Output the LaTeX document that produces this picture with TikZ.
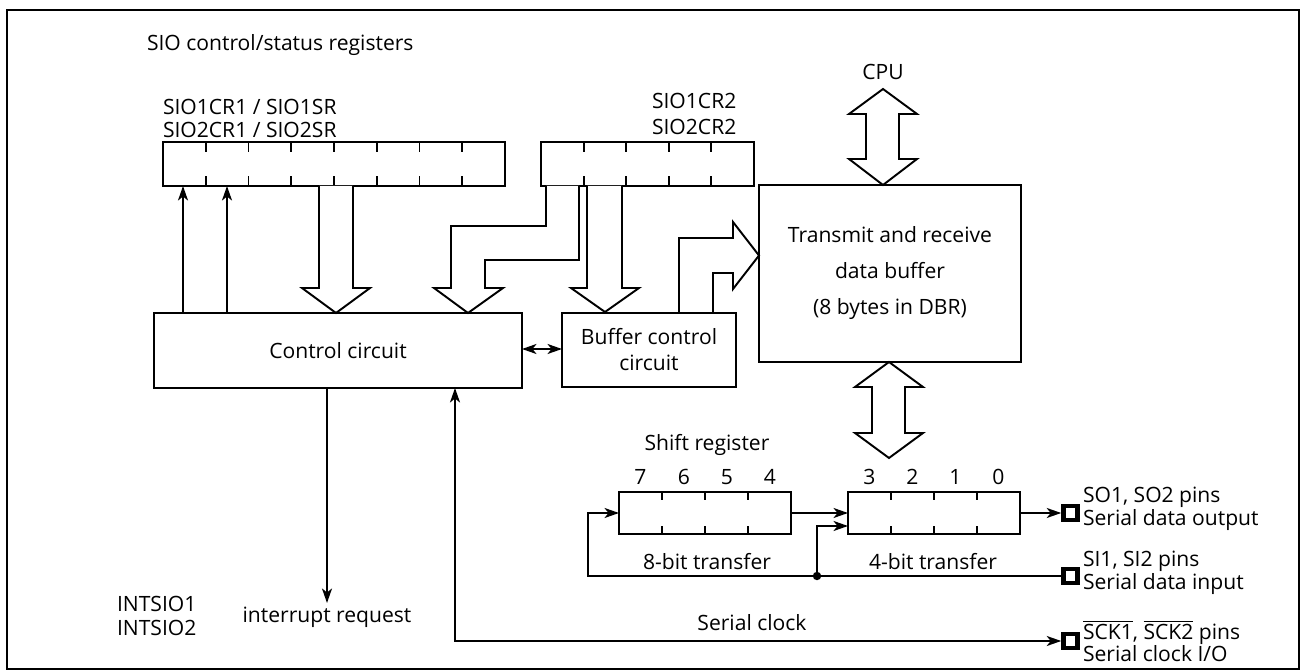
\documentclass[tikz,border=0pt]{standalone}
\usepackage{fontspec}
\setmainfont{Open Sans}
\usetikzlibrary{arrows.meta,calc}
\begin{document}
\begin{tikzpicture}[x=0.02cm,y=-0.02cm, line width=1.1pt,
  every node/.style={font=\fontsize{12}{14}\selectfont},
  box/.style={draw, line width=1.1pt, outer sep=0pt, inner sep=0pt, align=center},
  lbl/.style={inner sep=0pt, outer sep=0pt},
  pinbox/.style={draw, line width=2.6pt, minimum size=0.28cm, inner sep=0pt},
  tip/.style={-{Stealth[length=0.29cm,width=0.2cm,inset=0.08cm]}},
  tips/.style={{Stealth[length=0.29cm,width=0.2cm,inset=0.08cm]}-{Stealth[length=0.29cm,width=0.2cm,inset=0.08cm]}},
  hollow/.style={draw, line width=1.1pt, line join=miter, fill=white}]
\useasboundingbox (0,0) rectangle (1301,671);
\draw[line width=1.3pt] (7,10) rectangle (1299,669);

% boxes
\node[box, minimum width=7.36cm, minimum height=1.5cm] (ctrl) at (338,350.5) {Control circuit};
\node[box, minimum width=3.48cm, minimum height=1.48cm, font=\fontsize{12}{14.8}\selectfont] (buf) at (649,350) {Buffer control\\circuit};
\node[box, minimum width=5.24cm, minimum height=3.54cm, font=\fontsize{12}{20.5}\selectfont] (dbr) at (890,273.5) {Transmit and receive\\data buffer\\(8 bytes in DBR)};

% registers
\node[box, minimum width=6.84cm, minimum height=0.88cm] (r1) at (334,164) {};
\node[box, minimum width=4.26cm, minimum height=0.88cm] (r2) at (647.5,164) {};
\node[box, minimum width=3.44cm, minimum height=0.84cm] (sl) at (705,513) {};
\node[box, minimum width=3.44cm, minimum height=0.84cm] (sr) at (934,513) {};
\foreach \i in {1,...,7} {
  \draw ($(r1.north west)!\i/8!(r1.north east)$) -- ++(0,10);
  \draw ($(r1.south west)!\i/8!(r1.south east)$) -- ++(0,-10);
}
\foreach \i in {1,...,4} {
  \draw ($(r2.north west)!\i/5!(r2.north east)$) -- ++(0,10);
  \draw ($(r2.south west)!\i/5!(r2.south east)$) -- ++(0,-10);
}
\foreach \r in {sl,sr} {
  \foreach \i in {1,2,3} {
    \draw ($(\r.north west)!\i/4!(\r.north east)$) -- ++(0,8);
    \draw ($(\r.south west)!\i/4!(\r.south east)$) -- ++(0,-8);
  }
}

% pins
\node[pinbox] (so) at (1070.5,513) {};
\node[pinbox] (si) at (1070.5,576) {};
\node[pinbox] (sck) at (1070.5,641) {};

% labels
\node[lbl, anchor=west] (t0) at (147,45) {SIO control/status registers};
\node[lbl, anchor=west, align=left, font=\fontsize{12}{13.1}\selectfont] (t1) at (163,118.5) {SIO1CR1 / SIO1SR\\SIO2CR1 / SIO2SR};
\node[lbl, anchor=west, align=left, font=\fontsize{12}{14.8}\selectfont] (t2) at (652,114) {SIO1CR2\\SIO2CR2};
\node[lbl] (cpu) at (883,72) {CPU};
\node[lbl] (shl) at (707,445) {Shift register};
\node[lbl] (d7) at (640.5,477) {7};
\node[lbl] (d6) at (684,477) {6};
\node[lbl] (d5) at (727,477) {5};
\node[lbl] (d4) at (770,477) {4};
\node[lbl] (d3) at (869.5,477) {3};
\node[lbl] (d2) at (912.5,477) {2};
\node[lbl] (d1) at (955.5,477) {1};
\node[lbl] (d0) at (998.5,477) {0};
\node[lbl] (b8) at (707,562) {8-bit transfer};
\node[lbl] (b4) at (933,562) {4-bit transfer};
\node[lbl] (sclk) at (752,623) {Serial clock};
\node[lbl] (irqt) at (327,617) {interrupt request};
\node[lbl, anchor=west, align=left, font=\fontsize{12}{13.7}\selectfont] (ints) at (117,616) {INTSIO1\\INTSIO2};
\node[lbl, anchor=west, align=left, font=\fontsize{12}{11.4}\selectfont] (sot) at (1083,509) {SO1, SO2 pins\\Serial data output};
\node[lbl, anchor=west, align=left, font=\fontsize{12}{11.4}\selectfont] (sit) at (1083,573) {SI1, SI2 pins\\Serial data input};
\node[lbl, anchor=west, align=left, font=\fontsize{12}{12.5}\selectfont] (sckt) at (1083,641) {$\overline{\mbox{SCK1}}$, $\overline{\mbox{SCK2}}$ pins\\Serial clock I/O};

% hollow arrows
\draw[hollow] (319,186) -- (319,288) -- (302,288) -- (336,313) -- (370,288) -- (353,288) -- (353,186);
\draw[hollow] (546,186) -- (546,226) -- (451,226) -- (451,288) -- (434,288) -- (468,313) -- (503,288) -- (485,288) -- (485,260) -- (579,260) -- (579,186);
\draw[hollow] (587,186) -- (587,288) -- (571,288) -- (605,312) -- (639,288) -- (622,288) -- (622,186);
\draw[hollow] (679,312) -- (679,238) -- (733,238) -- (733,222) -- (759,255.5) -- (733,289) -- (733,273) -- (713,273) -- (713,312);
\draw[hollow] (883,89) -- (917,114) -- (899,114) -- (899,159) -- (917,159) -- (883,185) -- (849,159) -- (866,159) -- (866,114) -- (849,114) -- cycle;
\draw[hollow] (889,362) -- (923,387) -- (905,387) -- (905,433) -- (923,433) -- (889,458) -- (855,433) -- (872,433) -- (872,387) -- (855,387) -- cycle;

% connectors
\draw[tip] (183,0 |- ctrl.north) -- (183,0 |- r1.south);
\draw[tip] (227,0 |- ctrl.north) -- (227,0 |- r1.south);
\draw[tips] (ctrl.east |- 0,349) -- (buf.west |- 0,349);
\coordinate (irq) at (327,603);
\draw[tip] (327,0 |- ctrl.south) -- (irq);
\draw[tips] (455,0 |- ctrl.south) -- (455,0 |- sck.west) -- (sck.west);
\draw[tip] (sl.east) -- (sr.west);
\draw[tip] (sr.east) -- (so.west);
\coordinate (j) at (817,576);
\draw[tip] (si.west) -- (588,576) -- (588,0 |- sl.west) -- (sl.west);
\draw[tip] (j) -- (817,526) -- (sr.west |- 0,526);
\fill (j) circle (2.4pt);
\end{tikzpicture}
\end{document}
